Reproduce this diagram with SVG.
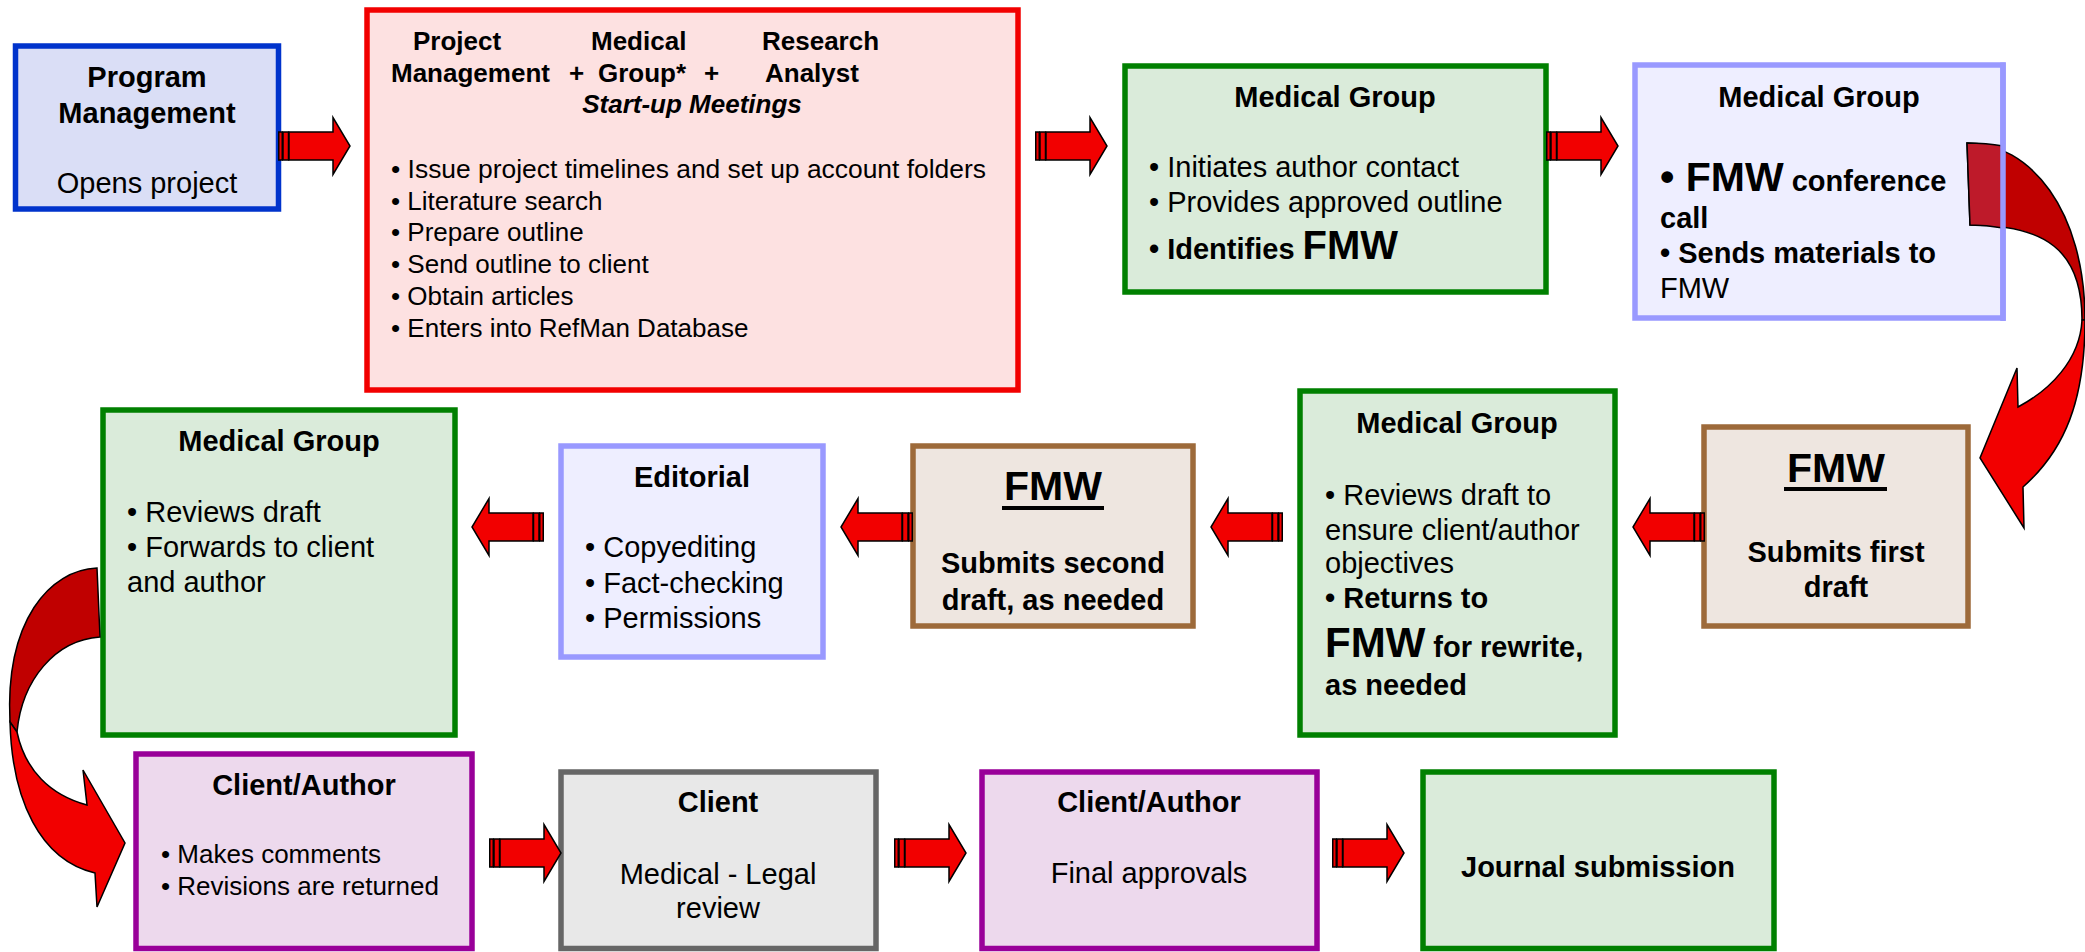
<svg xmlns="http://www.w3.org/2000/svg" width="2085" height="952" viewBox="0 0 2085 952">
<style>
text{font-family:"Liberation Sans",Arial,sans-serif;fill:#000}
.b{font-weight:bold}
.s29{font-size:29px}
.s26{font-size:26px}
.big{font-size:41px;font-weight:bold}
.m{text-anchor:middle}
.box{stroke-width:5.5}
.blue{fill:#DADEF6;stroke:#0033CC}
.pink{fill:#FDE1E1;stroke:#F20000}
.green{fill:#DAEBDA;stroke:#008000}
.lav{fill:#EEEEFF;stroke:#9999FF}
.brown{fill:#EEE6E0;stroke:#9D6A3A}
.purple{fill:#EDD9ED;stroke:#990099}
.gray{fill:#E8E8E8;stroke:#666666}
.ar{fill:#F20000;stroke:#000;stroke-width:1.5;stroke-linejoin:miter}
</style>
<defs>
<g id="arr">
<rect class="ar" x="0.75" y="-14" width="3.5" height="28"/>
<rect class="ar" x="5" y="-14" width="5.5" height="28"/>
<path class="ar" d="M11,-14 H55 V-28.5 L72,0 L55,28.5 V14 H11 Z"/>
</g>
</defs>
<rect width="2085" height="952" fill="#fff"/>

<g id="program-management">
<rect class="box blue" x="15.5" y="46" width="263" height="163"/>
<text class="s29 b m" x="147" y="87">Program</text>
<text class="s29 b m" x="147" y="123">Management</text>
<text class="s29 m" x="147" y="193">Opens project</text>
</g>

<g id="startup-meetings">
<rect class="box pink" x="367" y="10" width="651" height="380"/>
<text class="s26 b" x="413" y="50">Project</text>
<text class="s26 b" x="591" y="50">Medical</text>
<text class="s26 b" x="762" y="50">Research</text>
<text class="s26 b" x="391" y="82">Management</text>
<text class="s26 b" x="569" y="82">+</text>
<text class="s26 b" x="598" y="82">Group*</text>
<text class="s26 b" x="704" y="82">+</text>
<text class="s26 b" x="765" y="82">Analyst</text>
<text class="s26 b m" x="692" y="113" font-style="italic">Start-up Meetings</text>
<text class="s26" x="391" y="178" textLength="595" lengthAdjust="spacingAndGlyphs">• Issue project timelines and set up account folders</text>
<text class="s26" x="391" y="210">• Literature search</text>
<text class="s26" x="391" y="241">• Prepare outline</text>
<text class="s26" x="391" y="273">• Send outline to client</text>
<text class="s26" x="391" y="305">• Obtain articles</text>
<text class="s26" x="391" y="337">• Enters into RefMan Database</text>
</g>

<g id="medical-group-1">
<rect class="box green" x="1125" y="66" width="421" height="226"/>
<text class="s29 b m" x="1335" y="107">Medical Group</text>
<text class="s29" x="1149" y="177">• Initiates author contact</text>
<text class="s29" x="1149" y="212">• Provides approved outline</text>
<text class="s29 b" x="1149" y="259">• Identifies <tspan font-size="40px">FMW</tspan></text>
</g>

<g id="medical-group-2">
<rect class="box lav" x="1635" y="65" width="368" height="253"/>
<text class="s29 b m" x="1819" y="107">Medical Group</text>
<text class="b" x="1660" y="191"><tspan class="big">• FMW</tspan><tspan class="s29"> conference</tspan></text>
<text class="s29 b" x="1660" y="228">call</text>
<text class="s29 b" x="1660" y="263">• Sends materials to</text>
<text class="s29" x="1660" y="298">FMW</text>
</g>

<g id="fmw-first-draft">
<rect class="box brown" x="1704" y="427" width="264" height="199"/>
<text class="big m" x="1836" y="482">FMW</text>
<rect x="1784" y="487" width="103" height="4" fill="#000"/>
<text class="s29 b m" x="1836" y="562">Submits first</text>
<text class="s29 b m" x="1836" y="597">draft</text>
</g>

<g id="medical-group-3">
<rect class="box green" x="1300" y="391" width="315" height="344"/>
<text class="s29 b m" x="1457" y="433">Medical Group</text>
<text class="s29" x="1325" y="505">• Reviews draft to</text>
<text class="s29" x="1325" y="540">ensure client/author</text>
<text class="s29" x="1325" y="573">objectives</text>
<text class="s29 b" x="1325" y="608">• Returns to</text>
<text class="b" x="1325" y="657"><tspan font-size="42px">FMW</tspan><tspan class="s29"> for rewrite,</tspan></text>
<text class="s29 b" x="1325" y="695">as needed</text>
</g>

<g id="fmw-second-draft">
<rect class="box brown" x="913" y="446" width="280" height="180"/>
<text class="big m" x="1053" y="500">FMW</text>
<rect x="1002" y="506" width="102" height="4" fill="#000"/>
<text class="s29 b m" x="1053" y="573">Submits second</text>
<text class="s29 b m" x="1053" y="610">draft, as needed</text>
</g>

<g id="editorial">
<rect class="box lav" x="561" y="446" width="262" height="211"/>
<text class="s29 b m" x="692" y="487">Editorial</text>
<text class="s29" x="585" y="557">• Copyediting</text>
<text class="s29" x="585" y="593">• Fact-checking</text>
<text class="s29" x="585" y="628">• Permissions</text>
</g>

<g id="medical-group-4">
<rect class="box green" x="103" y="410" width="352" height="325"/>
<text class="s29 b m" x="279" y="451">Medical Group</text>
<text class="s29" x="127" y="522">• Reviews draft</text>
<text class="s29" x="127" y="557">• Forwards to client</text>
<text class="s29" x="127" y="592">and author</text>
</g>

<g id="client-author-1">
<rect class="box purple" x="136" y="754" width="336" height="194.5"/>
<text class="s29 b m" x="304" y="795">Client/Author</text>
<text class="s26" x="161" y="863">• Makes comments</text>
<text class="s26" x="161" y="895">• Revisions are returned</text>
</g>

<g id="client">
<rect class="box gray" x="561" y="772" width="315" height="176.5"/>
<text class="s29 b m" x="718" y="812">Client</text>
<text class="s29 m" x="718" y="884">Medical - Legal</text>
<text class="s29 m" x="718" y="918">review</text>
</g>

<g id="client-author-2">
<rect class="box purple" x="982" y="772" width="335" height="176.5"/>
<text class="s29 b m" x="1149" y="812">Client/Author</text>
<text class="s29 m" x="1149" y="883">Final approvals</text>
</g>

<g id="journal-submission">
<rect class="box green" x="1423" y="772" width="351" height="176.5"/>
<text class="s29 b m" x="1598" y="877">Journal submission</text>
</g>

<g id="connectors">
<use href="#arr" transform="translate(278,146)"/>
<use href="#arr" transform="translate(1035,146)"/>
<use href="#arr" transform="translate(1546,146)"/>
<use href="#arr" transform="translate(1705,527) scale(-1,1)"/>
<use href="#arr" transform="translate(1283,527) scale(-1,1)"/>
<use href="#arr" transform="translate(913,527) scale(-1,1)"/>
<use href="#arr" transform="translate(544,527) scale(-1,1)"/>
<use href="#arr" transform="translate(489,853)"/>
<use href="#arr" transform="translate(894,853)"/>
<use href="#arr" transform="translate(1332,853)"/>
<g id="curve-right">
<path d="M1967,143 C2030,143 2085,210 2085,320 L2082,320 C2082,250 2045,225 1970,225 Z" fill="#C00000" stroke="#000" stroke-width="1.5"/>
<path d="M1967,143 C1980,143 1992,144 2003,146 L2003,228 C1992,226 1981,225 1970,225 Z" fill="#BE1A2A" stroke="#000" stroke-width="1.5"/>
<path d="M2085,320 C2085,400 2065,450 2023,487 L2024,528 L1980,458 L2017,368 L2018,407 C2050,390 2080,360 2082,320 Z" fill="#F20000" stroke="#000" stroke-width="1.5"/>
</g>
<g id="curve-left">
<path d="M97,568 C50,570 5,620 10,722 L17,732 C22,680 55,640 100,637 Z" fill="#C00000" stroke="#000" stroke-width="1.5"/>
<path d="M10,722 C12,800 40,860 95,873 L97,907 L125,843 L83,770 L87,805 C50,795 25,770 17,732 Z" fill="#F20000" stroke="#000" stroke-width="1.5"/>
</g>
</g>
<g id="medical-group-2-border-overlay">
<line x1="2003" y1="62.5" x2="2003" y2="321" stroke="#9999FF" stroke-width="5.5"/>
</g>
</svg>
